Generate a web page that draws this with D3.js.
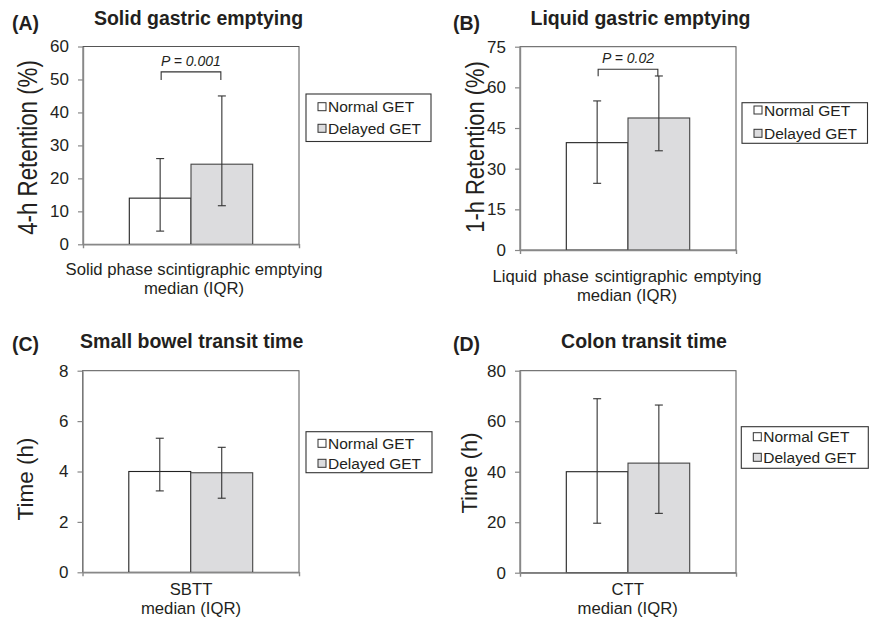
<!DOCTYPE html>
<html>
<head>
<meta charset="utf-8">
<script src="https://cdn.jsdelivr.net/npm/d3@7"></script>
<style>
  html, body { margin: 0; padding: 0; background: #fff; }
  svg text { font-family: "Liberation Sans", Arial, sans-serif; fill: #231f20; }
</style>
</head>
<body>
<svg id="chart" width="872" height="621"></svg>
<script>
// ---------------- data ----------------
const groups = ["Normal GET", "Delayed GET"];
const panelLetters = ["(A)", "(B)", "(C)", "(D)"];
const panelTitles = ["Solid gastric emptying", "Liquid gastric emptying", "Small bowel transit time", "Colon transit time"];
const yTitles = ["4-h Retention (%)", "1-h Retention (%)", "Time (h)", "Time (h)"];
const xLabels = [
  ["Solid phase scintigraphic emptying", "median (IQR)"],
  ["Liquid phase scintigraphic emptying", "median (IQR)"],
  ["SBTT", "median (IQR)"],
  ["CTT", "median (IQR)"]
];
const solidMedian = [14.0, 24.3];
const solidQ1 = [4.0, 11.7];
const solidQ3 = [26.0, 45.0];
const liquidMedian = [39.6, 48.7];
const liquidQ1 = [24.6, 36.6];
const liquidQ3 = [55.0, 64.2];
const sbttMedian = [4.0, 3.95];
const sbttQ1 = [3.23, 2.94];
const sbttQ3 = [5.32, 4.96];
const cttMedian = [40.0, 43.4];
const cttQ1 = [19.6, 23.5];
const cttQ3 = [68.9, 66.4];
const yTicksA = [0, 10, 20, 30, 40, 50, 60];
const yTicksB = [0, 15, 30, 45, 60, 75];
const yTicksC = [0, 2, 4, 6, 8];
const yTicksD = [0, 20, 40, 60, 80];
const pLabels = ["P = 0.001", "P = 0.02", null, null];
const bracketLevels = [52.3, 66.7, null, null];

const medians = [solidMedian, liquidMedian, sbttMedian, cttMedian];
const q1s = [solidQ1, liquidQ1, sbttQ1, cttQ1];
const q3s = [solidQ3, liquidQ3, sbttQ3, cttQ3];
const yTicks = [yTicksA, yTicksB, yTicksC, yTicksD];

// ---------------- layout (positions / styles) ----------------
const layout = [
  { left: 83, right: 299, top: 46.5, bottom: 244.3, letterX: 12, letterY: 30, titleX: 198.5, titleY: 25,
    yTitleX: 37, yTitleY: 147.5, yTitleSize: 22.3, yTitleK: 1.2, xl1: 275, xlGap: 19, xlX: 194, wordSp: 0,
    legend: { x: 306, y: 94, w: 125, h: 47.5, r1: 106.7, r2: 128.3 }, pDrop: 8 },
  { left: 520, right: 736, top: 46.7, bottom: 250, letterX: 453, letterY: 30, titleX: 640.5, titleY: 25,
    yTitleX: 484, yTitleY: 147, yTitleSize: 21.9, yTitleK: 1.2, xl1: 281.5, xlGap: 19, xlX: 627, wordSp: 1.5,
    legend: { x: 742, y: 102.7, w: 125.5, h: 40.6, r1: 110, r2: 133.3 }, pDrop: 7 },
  { left: 82.5, right: 299, top: 370.7, bottom: 572.3, letterX: 12, letterY: 351, titleX: 191.7, titleY: 348,
    yTitleX: 33, yTitleY: 479, yTitleSize: 22.5, yTitleK: 1, xl1: 595, xlGap: 19, xlX: 191, wordSp: 0,
    legend: { x: 306, y: 431.7, w: 126, h: 41, r1: 443.3, r2: 463.3 }, pDrop: 7 },
  { left: 520, right: 736, top: 370.7, bottom: 572.7, letterX: 453, letterY: 351, titleX: 644, titleY: 348,
    yTitleX: 477, yTitleY: 473, yTitleSize: 22, yTitleK: 1, xl1: 594.5, xlGap: 19, xlX: 627.7, wordSp: 0,
    legend: { x: 741.3, y: 426.7, w: 127, h: 41.6, r1: 436.7, r2: 457.3 }, pDrop: 7 }
];
const fills = ["#ffffff", "#dcdcde"];
const barStroke = ["#222", "#444"];

const svg = d3.select("#chart");

layout.forEach((L, i) => {
  const g = svg.append("g");
  const y = d3.scaleLinear()
    .domain([0, d3.max(yTicks[i])])
    .range([L.bottom, L.top]);
  const x = d3.scaleBand()
    .domain(groups)
    .range([L.left + 46.3, L.right - 46.3])
    .padding(0);

  // frame
  g.append("rect")
    .attr("x", L.left).attr("y", L.top)
    .attr("width", L.right - L.left).attr("height", L.bottom - L.top)
    .attr("fill", "none").attr("stroke", "#555").attr("stroke-width", 1);

  // bars
  g.selectAll("rect.bar").data(groups).join("rect")
    .attr("class", "bar")
    .attr("x", d => x(d))
    .attr("y", (d, j) => y(medians[i][j]))
    .attr("width", x.bandwidth())
    .attr("height", (d, j) => L.bottom - y(medians[i][j]))
    .attr("fill", (d, j) => fills[j])
    .attr("stroke", (d, j) => barStroke[j])
    .attr("stroke-width", 1.1);

  // error bars
  groups.forEach((gr, j) => {
    const cx = x(gr) + x.bandwidth() / 2;
    const eb = g.append("g").attr("stroke", "#333").attr("stroke-width", 1.1);
    eb.append("line").attr("x1", cx).attr("x2", cx).attr("y1", y(q1s[i][j])).attr("y2", y(q3s[i][j]));
    eb.append("line").attr("x1", cx - 4).attr("x2", cx + 4).attr("y1", y(q1s[i][j])).attr("y2", y(q1s[i][j]));
    eb.append("line").attr("x1", cx - 4).attr("x2", cx + 4).attr("y1", y(q3s[i][j])).attr("y2", y(q3s[i][j]));
  });

  // y axis
  const ya = g.append("g")
    .attr("transform", `translate(${L.left},0)`)
    .call(d3.axisLeft(y).tickValues(yTicks[i]).tickSize(5).tickSizeOuter(0).tickPadding(9));
  ya.select(".domain").attr("stroke", "#888").attr("stroke-width", 1.4);
  ya.selectAll(".tick line").attr("stroke", "#888").attr("stroke-width", 1.2);
  ya.selectAll(".tick text").attr("font-size", 17).attr("font-family", "Liberation Sans, Arial, sans-serif").attr("fill", "#231f20");

  // x axis
  const xs = d3.scaleLinear().domain([0, 1]).range([L.left, L.right]);
  const xa = g.append("g")
    .attr("transform", `translate(0,${L.bottom})`)
    .call(d3.axisBottom(xs).tickValues([]).tickSizeOuter(4));
  xa.select(".domain").attr("stroke", "#888").attr("stroke-width", 1.4);

  // x labels (two lines in one text)
  const xt = g.append("text")
    .attr("x", L.xlX).attr("y", L.xl1)
    .attr("text-anchor", "middle").attr("font-size", 16.7);
  xLabels[i].forEach((t, k) => {
    xt.append("tspan")
      .attr("x", L.xlX).attr("dy", k === 0 ? 0 : L.xlGap)
      .style("word-spacing", k === 0 ? L.wordSp + "px" : "0px")
      .text(t);
  });

  // y title
  g.append("text")
    .attr("transform", `translate(${L.yTitleX},${L.yTitleY}) rotate(-90) scale(1,${L.yTitleK})`)
    .attr("text-anchor", "middle").attr("font-size", L.yTitleSize)
    .text(yTitles[i]);

  // panel letter & title
  g.append("text").attr("x", L.letterX).attr("y", L.letterY)
    .attr("font-size", 19.5).attr("font-weight", "bold").text(panelLetters[i]);
  g.append("text").attr("x", L.titleX).attr("y", L.titleY)
    .attr("text-anchor", "middle").attr("font-size", 19.5).attr("font-weight", "bold").text(panelTitles[i]);

  // p-value bracket
  if (pLabels[i]) {
    const x1 = x(groups[0]) + x.bandwidth() / 2 + 1;
    const x2 = x(groups[1]) + x.bandwidth() / 2 - 1;
    const by = y(bracketLevels[i]);
    g.append("path")
      .attr("d", `M${x1},${by + L.pDrop}V${by}H${x2}V${by + L.pDrop}`)
      .attr("fill", "none").attr("stroke", "#333").attr("stroke-width", 1.1);
    g.append("text")
      .attr("x", (x1 + x2) / 2).attr("y", by - 6)
      .attr("text-anchor", "middle").attr("font-size", 14).attr("font-style", "italic")
      .text(pLabels[i]);
  }

  // legend
  const lg = g.append("g");
  lg.append("rect").attr("x", L.legend.x).attr("y", L.legend.y)
    .attr("width", L.legend.w).attr("height", L.legend.h)
    .attr("fill", "#fff").attr("stroke", "#333").attr("stroke-width", 1.1);
  groups.forEach((gr, j) => {
    const ry = j === 0 ? L.legend.r1 : L.legend.r2;
    lg.append("rect").attr("x", L.legend.x + 12).attr("y", ry - 4)
      .attr("width", 8).attr("height", 8)
      .attr("fill", fills[j]).attr("stroke", "#333").attr("stroke-width", 1);
    lg.append("text").attr("x", L.legend.x + 22).attr("y", ry + 5.5)
      .attr("font-size", 15.5).text(gr);
  });
});
</script>
</body>
</html>
